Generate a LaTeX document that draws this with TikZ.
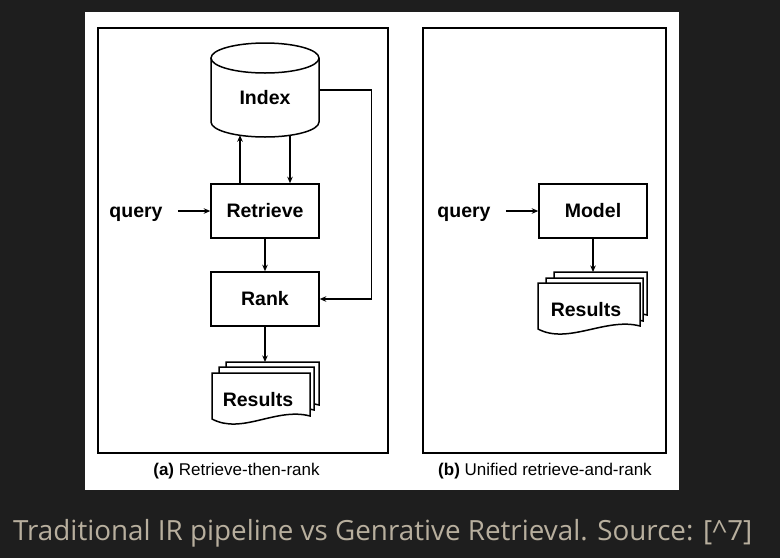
\documentclass[tikz,border=0pt]{standalone}
\usepackage{fontspec}
\setmainfont{Liberation Sans}
\newfontfamily\capfont{Open Sans}
\usetikzlibrary{arrows.meta,calc}

\definecolor{bgdark}{HTML}{1E1E1E}
\definecolor{captext}{HTML}{B8AF9E}

\tikzset{
  box/.style={draw, line width=1.5pt, fill=white, minimum width=108pt, minimum height=54pt, inner sep=0pt, font=\bfseries\fontsize{19.5}{22}\selectfont},
  lbl/.style={font=\bfseries\fontsize{19.5}{22}\selectfont},
  flow/.style={line width=1.3pt, -{Stealth[length=6.5pt,width=5.5pt]}},
  sheet/.style={draw, line width=1.5pt, fill=white},
  subcap/.style={font=\fontsize{17}{19}\selectfont},
}

\begin{document}
\begin{tikzpicture}[x=1pt,y=-1pt]

            % Backdrop and white sheet
            \fill[bgdark] (0,0) rectangle (780,558);
            \useasboundingbox (0,0) rectangle (780,558);
            \fill[white] (85,12) rectangle (679,490);

            % Panel frames
            \draw[line width=1.5pt] (98,28) rectangle (388,453); % Panel (a)
            \draw[line width=1.5pt] (423,28) rectangle (666,453); % Panel (b)

            % Index cylinder
            \node[minimum width=108pt, minimum height=94pt, inner sep=0pt] (index) at (265,90) {};
            \draw[line width=1.5pt, fill=white] (211,58) -- (211,122) arc[start angle=180, end angle=360, x radius=54pt, y radius=15pt] -- (319,58);
            \draw[line width=1.5pt] (265,58) ellipse [x radius=54pt, y radius=15pt];
            \node[lbl] (indexlbl) at (265,98) {Index}; % Label Index

            % Panel (a) boxes
            \node[box] (retrieve) at (265,211) {Retrieve};
            \node[box] (rank) at (265,299) {Rank};
            \node[lbl, anchor=base, inner sep=0pt] (querya) at (136,217) {query};

            % Result sheets (a)
            \foreach \x/\y/\w in {226/362/93, 219/367/95, 212/373/98}
                \draw[sheet] (\x,\y) -- ++(\w,0) -- ++(0,43) .. controls ++(-34,-9) and ++(30,16) .. ++(-\w,3) -- cycle;
            \node[lbl] (resultsa) at (258,400) {Results};
            \coordinate (resa) at (265,362);

            % Connectors (a)
            \draw[flow] (querya.east |- retrieve.west) ++(15,0) -- (retrieve.west); % query to Retrieve
            \draw[flow] ([xshift=-25pt]retrieve.north) -- ($(index.south)+(-25,-2)$); % Retrieve up to Index
            \draw[flow] ($(index.south)+(25,-2)$) -- ([xshift=25pt]retrieve.north); % Index down to Retrieve
            \draw[flow] (retrieve.south) -- (rank.north); % Retrieve to Rank
            \draw[flow] (index.east) -- ++(52,0) |- (rank.east); % Index round to Rank
            \draw[flow] (rank.south) -- (resa); % Rank to Results

            % Panel (b)
            \node[box] (model) at (593,211) {Model};
            \node[lbl, anchor=base, inner sep=0pt] (queryb) at (464,217) {query};
            \foreach \x/\y/\w in {554/272/93, 546/278/97, 538/283/102}
                \draw[sheet] (\x,\y) -- ++(\w,0) -- ++(0,43) .. controls ++(-34,-9) and ++(30,16) .. ++(-\w,3) -- cycle;
            \node[lbl] (resultsb) at (586,310) {Results};
            \coordinate (resb) at (593,272);
            \draw[flow] (queryb.east |- model.west) ++(15,0) -- (model.west); % query to Model
            \draw[flow] (model.south) -- (resb); % Model to Results

            % Sub captions
            \node[subcap] (capa) at (236.5,471) {\textbf{(a)} Retrieve-then-rank};
            \node[subcap] (capb) at (545,471) {\textbf{(b)} Unified retrieve-and-rank};

            % Figure caption
            \node[anchor=base west, inner sep=0pt, text=captext, font=\capfont\fontsize{27.8}{32}\selectfont] (title) at (13,540) {Traditional IR pipeline vs Genrative Retrieval. Source: [\textasciicircum7]};

\end{tikzpicture}
\end{document}
